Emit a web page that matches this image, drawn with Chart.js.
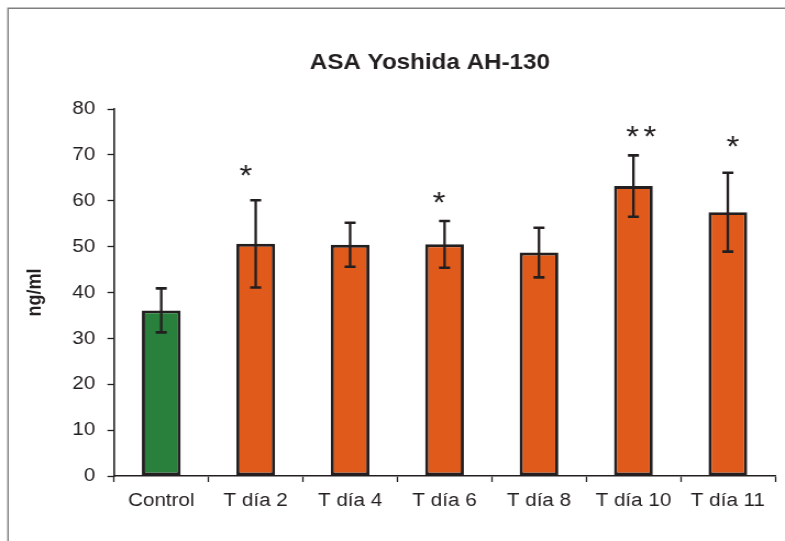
<!DOCTYPE html>
<html>
<head>
<meta charset="utf-8">
<script src="https://cdn.jsdelivr.net/npm/chart.js@4/dist/chart.umd.min.js"></script>
<style>
  html, body { margin: 0; padding: 0; background: #fff; overflow: hidden; }
  /* the figure is laid out on a 714px canvas and widened to 785px */
  #wrap { width: 714px; height: 541px; transform: scaleX(1.0994); transform-origin: 0 0; }
  canvas { display: block; }
</style>
</head>
<body>
<div id="wrap"><canvas id="c" width="714" height="541"></canvas></div>
<script>
// ASA Yoshida AH-130 — mean concentration (ng/ml) with error bars
const categories = ['Control', 'T día 2', 'T día 4', 'T día 6', 'T día 8', 'T día 10', 'T día 11'];
const means      = [36.1, 50.6, 50.4, 50.5, 48.7, 63.2, 57.5];
const errors     = [4.8, 9.5, 4.8, 5.1, 5.4, 6.7, 8.6];
const yTicks     = [0, 10, 20, 30, 40, 50, 60, 70, 80];

// significance marks: category, symbol, level (ng/ml) where the symbol sits
const sigCategories = ['T día 2', 'T día 6', 'T día 10', 'T día 11'];
const sigSymbols    = ['*', '*', '**', '*'];
const sigLevels     = [66.6, 60.7, 75.1, 73.0];

const TEXT = '#231f20';
const GREEN = '#28803c';
const ORANGE = '#e05a1c';
const FONT = "'Liberation Sans', Arial, Helvetica, sans-serif";

const framePlugin = {
  id: 'frame',
  beforeDraw(chart) {
    const ctx = chart.ctx;
    ctx.save();
    ctx.strokeStyle = '#808080';
    ctx.lineWidth = 1.4;
    ctx.beginPath();
    ctx.moveTo(7.3, chart.height + 2);
    ctx.lineTo(7.3, 8.3);
    ctx.lineTo(chart.width + 2, 8.3);
    ctx.stroke();
    ctx.restore();
  }
};

const headingPlugin = {
  id: 'heading',
  afterDraw(chart, args, opts) {
    const ctx = chart.ctx;
    ctx.save();
    ctx.font = `bold 22px ${FONT}`;
    ctx.fillStyle = TEXT;
    ctx.textAlign = 'center';
    ctx.textBaseline = 'alphabetic';
    ctx.fillText(opts.text, opts.x, opts.y);
    ctx.restore();
  }
};

const errorBarPlugin = {
  id: 'errorBars',
  afterDatasetsDraw(chart) {
    const ctx = chart.ctx;
    const xs = chart.scales.x, ys = chart.scales.y;
    ctx.save();
    ctx.strokeStyle = '#231f20';
    ctx.lineCap = 'butt';
    means.forEach((m, i) => {
      const x = xs.getPixelForValue(i);
      const yHi = ys.getPixelForValue(m + errors[i]);
      const yLo = ys.getPixelForValue(m - errors[i]);
      ctx.lineWidth = 2.3;
      ctx.beginPath();
      ctx.moveTo(x, yHi);
      ctx.lineTo(x, yLo);
      ctx.stroke();
      ctx.lineWidth = 2.6;
      ctx.beginPath();
      ctx.moveTo(x - 5, yHi); ctx.lineTo(x + 5, yHi);
      ctx.moveTo(x - 5, yLo); ctx.lineTo(x + 5, yLo);
      ctx.stroke();
    });
    ctx.restore();
  }
};

const sigPlugin = {
  id: 'sigMarks',
  afterDatasetsDraw(chart, args, opts) {
    const ctx = chart.ctx;
    const xs = chart.scales.x, ys = chart.scales.y;
    ctx.save();
    ctx.font = `30px ${FONT}`;
    ctx.fillStyle = TEXT;
    ctx.textAlign = 'center';
    ctx.textBaseline = 'alphabetic';
    sigCategories.forEach((cat, k) => {
      const i = categories.indexOf(cat);
      const sym = sigSymbols[k];
      ctx.letterSpacing = sym.length > 1 ? '4px' : '0px';
      const m = ctx.measureText(sym);
      const yc = ys.getPixelForValue(sigLevels[k]);
      const y = yc + (m.actualBoundingBoxAscent - m.actualBoundingBoxDescent) / 2;
      const dx = (opts.shift && opts.shift[k]) || 0;
      ctx.fillText(sym, xs.getPixelForValue(i) + dx, y);
    });
    ctx.restore();
  }
};

new Chart(document.getElementById('c'), {
  type: 'bar',
  data: {
    labels: categories,
    datasets: [{
      data: means,
      backgroundColor: ctx => ctx.dataIndex === 0 ? GREEN : ORANGE,
      borderColor: '#231f20',
      borderWidth: 2.9,
      borderSkipped: false,
      barPercentage: 0.41,
      categoryPercentage: 1.0
    }]
  },
  options: {
    responsive: false,
    devicePixelRatio: 1,
    animation: false,
    layout: { padding: { top: 109, right: 9, bottom: 0, left: 0 } },
    plugins: {
      legend: { display: false },
      title: { display: false },
      tooltip: { enabled: false },
      heading: { text: 'ASA Yoshida AH-130', x: 391, y: 68.5 },
      sigMarks: { shift: [-9, -5, 9, 4.5] }
    },
    scales: {
      x: {
        afterFit: s => { s.height = 65; },
        grid: { display: true, drawOnChartArea: false, drawTicks: true, tickLength: 6, tickColor: '#231f20', tickWidth: 1.3, offset: true },
        border: { display: true, color: '#231f20', width: 1.6 },
        ticks: { color: TEXT, font: { family: FONT, size: 18.8 }, padding: 8, maxRotation: 0, autoSkip: false }
      },
      y: {
        min: 0, max: 80,
        afterFit: s => { s.width = 103.7; },
        afterBuildTicks: s => { s.ticks = yTicks.map(v => ({ value: v })); },
        grid: { display: true, drawOnChartArea: false, drawTicks: true, tickLength: 6, tickColor: '#231f20', tickWidth: 1.3 },
        border: { display: true, color: '#231f20', width: 1.6 },
        ticks: { color: TEXT, font: { family: FONT, size: 18.8 }, padding: 11 },
        title: { display: true, text: 'ng/ml', color: TEXT, font: { family: FONT, size: 18, weight: 'bold' }, padding: { top: 21, bottom: 0 } }
      }
    }
  },
  plugins: [framePlugin, headingPlugin, errorBarPlugin, sigPlugin]
});
</script>
</body>
</html>
